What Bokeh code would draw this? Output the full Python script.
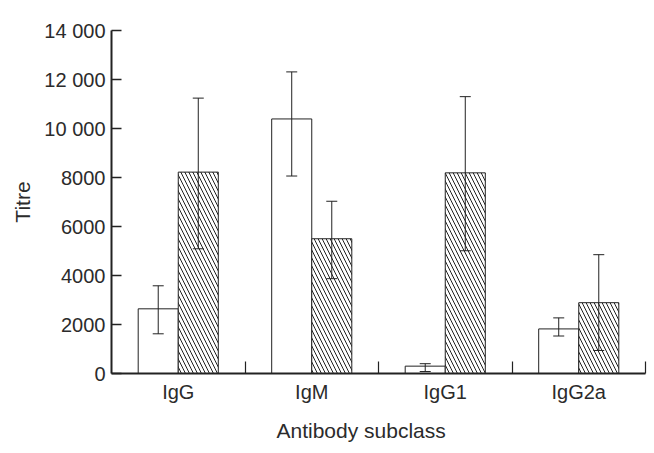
from bokeh.plotting import figure
from bokeh.models import Range1d, FixedTicker, Whisker, TeeHead, ColumnDataSource, Title
from bokeh.embed import file_html
from bokeh.resources import INLINE

categories = ["IgG", "IgM", "IgG1", "IgG2a"]
open_vals = [2640, 10390, 300, 1820]
open_err_up = [940, 1920, 100, 450]
open_err_down = [1020, 2330, 220, 290]
hatched_vals = [8220, 5500, 8190, 2890]
hatched_err_up = [3020, 1530, 3110, 1960]
hatched_err_down = [3130, 1630, 3180, 1950]
y_ticks = [0, 2000, 4000, 6000, 8000, 10000, 12000, 14000]
y_tick_labels = ["0", "2000", "4000", "6000", "8000", "10 000", "12 000", "14 000"]

bar_w = 0.3
centers = [i + 0.5 for i in range(len(categories))]
open_x = [c - bar_w / 2 for c in centers]
hatch_x = [c + bar_w / 2 for c in centers]

TXT = "#2b2b2b"
LINE = "#222222"
FONT = "Liberation Sans"

p = figure(width=652, height=452, output_backend="svg", toolbar_location=None,
           x_range=Range1d(0, len(categories)), y_range=Range1d(0, 14000),
           min_border_left=111, min_border_right=7, min_border_top=30, min_border_bottom=5)
p.outline_line_color = None
p.grid.visible = False
p.background_fill_color = "white"

src_o = ColumnDataSource(dict(x=open_x, top=open_vals,
                              upper=[v + e for v, e in zip(open_vals, open_err_up)],
                              lower=[v - e for v, e in zip(open_vals, open_err_down)]))
src_h = ColumnDataSource(dict(x=hatch_x, top=hatched_vals,
                              upper=[v + e for v, e in zip(hatched_vals, hatched_err_up)],
                              lower=[v - e for v, e in zip(hatched_vals, hatched_err_down)]))

p.vbar(x="x", top="top", bottom=0, width=bar_w, source=src_o,
       fill_color="white", line_color=LINE, line_width=1)
p.vbar(x="x", top="top", bottom=0, width=bar_w, source=src_h,
       fill_color="white", line_color=LINE, line_width=1,
       hatch_pattern="\\", hatch_color=LINE, hatch_scale=8, hatch_weight=1)

for src in (src_o, src_h):
    p.add_layout(Whisker(source=src, base="x", upper="upper", lower="lower",
                         level="overlay", line_color=LINE, line_width=1,
                         upper_head=TeeHead(size=11, line_color=LINE, line_width=1),
                         lower_head=TeeHead(size=11, line_color=LINE, line_width=1)))

# y axis
ya = p.yaxis[0]
ya.ticker = FixedTicker(ticks=y_ticks)
ya.major_label_overrides = {t: l for t, l in zip(y_ticks, y_tick_labels)}
ya.major_tick_in = 10
ya.major_tick_out = 0
ya.minor_tick_line_color = None
ya.axis_line_width = 2
ya.axis_line_color = LINE
ya.major_tick_line_color = LINE
ya.major_tick_line_width = 1.5
ya.major_label_text_font = FONT
ya.major_label_text_font_size = "20px"
ya.major_label_text_color = TXT
ya.major_label_standoff = 6
ya.axis_label = "Titre"
ya.axis_label_text_font = FONT
ya.axis_label_text_font_size = "21px"
ya.axis_label_text_font_style = "normal"
ya.axis_label_text_color = TXT
ya.axis_label_standoff = 7

# x axis
xa = p.xaxis[0]
xa.ticker = FixedTicker(ticks=centers, minor_ticks=list(range(1, len(categories) + 1)))
xa.major_label_overrides = {c: n for c, n in zip(centers, categories)}
xa.major_tick_in = 0
xa.major_tick_out = 0
xa.minor_tick_in = 12
xa.minor_tick_out = 0
xa.minor_tick_line_color = LINE
xa.minor_tick_line_width = 1.2
xa.axis_line_width = 2
xa.axis_line_color = LINE
xa.major_label_text_font = FONT
xa.major_label_text_font_size = "20px"
xa.major_label_text_color = TXT
xa.major_label_standoff = 7

xlabel = Title(text="Antibody subclass", align="left", offset=165, standoff=22,
               text_font=FONT, text_font_size="21px", text_font_style="normal",
               text_color=TXT)
p.add_layout(xlabel, "below")

open("out.html", "w").write(file_html(p, INLINE))
